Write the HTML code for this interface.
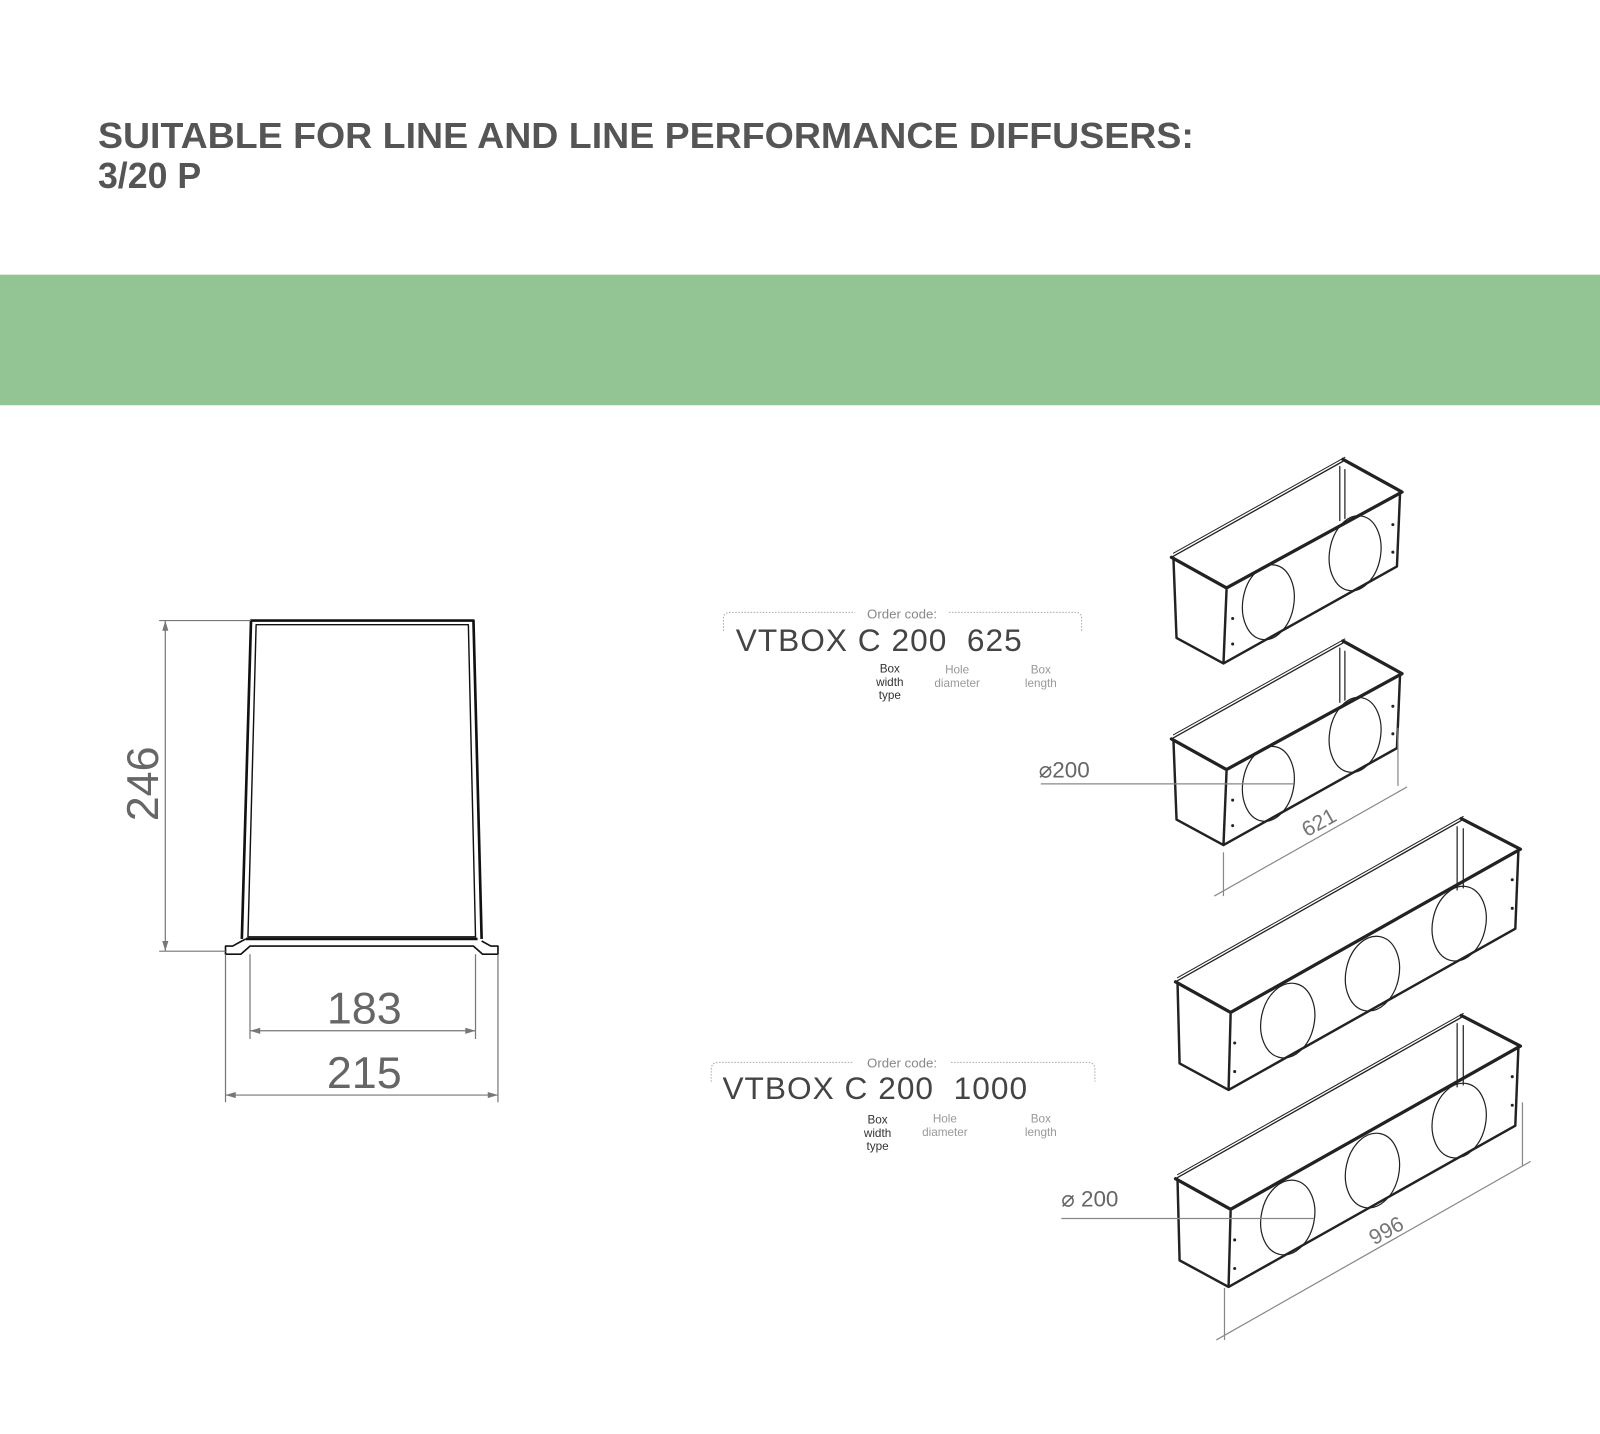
<!DOCTYPE html>
<html><head><meta charset="utf-8"><style>
html,body{margin:0;padding:0;background:#fff;}
svg{display:block;}
</style></head><body>
<svg width="1600" height="1434" viewBox="0 0 1568 1405" xmlns="http://www.w3.org/2000/svg" font-family="Liberation Sans, sans-serif">
<defs>
<g id="sbox" fill="none" stroke="#222" stroke-linejoin="round" stroke-linecap="round">
  <path d="M2,-4 L170,-98" stroke-width="1"/>
  <path d="M0,0 L168,-94" stroke-width="1.3"/>
  <path d="M0,0 L54,30 L226,-64 L168,-96" stroke-width="3.2"/>
  <path d="M2,2 L5,79 L51,104 L54,32 M51,104 L221,9 L224,-62" stroke-width="2.4"/>
  <path d="M165,-89 L165,-36 M170,-86 L170,-38" stroke-width="1.2"/>
  <ellipse cx="95" cy="44" rx="25" ry="37" transform="rotate(10 95 44)" stroke-width="1.2"/>
  <ellipse cx="180" cy="-4" rx="25" ry="37" transform="rotate(10 180 -4)" stroke-width="1.2"/>
  <circle cx="60" cy="60" r="1" fill="#222"/><circle cx="60" cy="85" r="1" fill="#222"/>
  <circle cx="217" cy="-32" r="1" fill="#222"/><circle cx="217" cy="-5" r="1" fill="#222"/>
</g>
<g id="lbox" fill="none" stroke="#222" stroke-linejoin="round" stroke-linecap="round">
  <path d="M2,-4 L282,-162" stroke-width="1"/>
  <path d="M0,0 L280,-158" stroke-width="1.3"/>
  <path d="M0,0 L54,30 L338,-130 L280,-160" stroke-width="3.2"/>
  <path d="M2,2 L4,80 L52,106 L54,32 M52,106 L333,-52 L336,-128" stroke-width="2.4"/>
  <path d="M276,-152 L276,-90 M282,-150 L282,-92" stroke-width="1.2"/>
  <ellipse cx="110" cy="38" rx="26" ry="37" transform="rotate(12 110 38)" stroke-width="1.2"/>
  <ellipse cx="193" cy="-8" rx="26" ry="37" transform="rotate(12 193 -8)" stroke-width="1.2"/>
  <ellipse cx="278" cy="-57" rx="26" ry="37" transform="rotate(12 278 -57)" stroke-width="1.2"/>
  <circle cx="58" cy="60" r="1" fill="#222"/><circle cx="58" cy="88" r="1" fill="#222"/>
  <circle cx="330" cy="-100" r="1" fill="#222"/><circle cx="330" cy="-72" r="1" fill="#222"/>
</g>
</defs>

<text x="96" y="145" font-size="35" font-weight="bold" fill="#555" textLength="1074" lengthAdjust="spacingAndGlyphs">SUITABLE FOR LINE AND LINE PERFORMANCE DIFFUSERS:</text>
<text x="96" y="184" font-size="35" font-weight="bold" fill="#555">3/20 P</text>

<rect x="0" y="269" width="1568" height="128" fill="#93c493"/>

<g fill="none" stroke="#111" stroke-linejoin="round">
  <path d="M237,920 L246,608 L464,608 L472,920" stroke-width="2.6"/>
  <path d="M243,918 L251,612 L459,612 L466,918 Z" stroke-width="1.4"/>
  <path d="M241,920 L468,920" stroke-width="2.6"/>
  <path d="M241,920 L237,922 L228,927 L221,927 L221,935 L236,935 L245,927 L464,927 L473,935 L488,935 L488,927 L481,927 L472,922" stroke-width="1.6"/>
</g>
<g stroke="#777" stroke-width="1.2" fill="none">
  <path d="M156,608 L246,608 M156,932 L221,932 M162,608 L162,932"/>
  <path d="M245,935 L245,1018 M466,935 L466,1018 M245,1010 L466,1010"/>
  <path d="M221,935 L221,1080 M488,935 L488,1080 M221,1073 L488,1073"/>
</g>
<g fill="#777"><path d="M245,1010 l10,-3 l0,6z M466,1010 l-10,-3 l0,6z M221,1073 l10,-3 l0,6z M488,1073 l-10,-3 l0,6z M162,608 l-3,10 l6,0z M162,932 l-3,-10 l6,0z"/></g>
<text x="357" y="1003" font-size="44" fill="#666" text-anchor="middle">183</text>
<text x="357" y="1066" font-size="44" fill="#666" text-anchor="middle">215</text>
<text transform="translate(155,768) rotate(-90)" font-size="44" fill="#666" text-anchor="middle">246</text>

<path d="M709,618 L709,606 Q709,600 716,600 L838,600 M930,600 L1054,600 Q1060,600 1060,606 L1060,618" stroke="#aaa" stroke-width="1" stroke-dasharray="1.5 1.5" fill="none"/>
<text x="884" y="606" font-size="13" fill="#888" text-anchor="middle">Order code:</text>
<text x="721" y="638" font-size="31" fill="#444" letter-spacing="1">VTBOX C 200&#160; 625</text>
<g font-size="11.5" text-anchor="middle">
  <text x="872" y="659" fill="#333">Box</text><text x="872" y="672" fill="#333">width</text><text x="872" y="685" fill="#333">type</text>
  <text x="938" y="660" fill="#999">Hole</text><text x="938" y="673" fill="#999">diameter</text>
  <text x="1020" y="660" fill="#999">Box</text><text x="1020" y="673" fill="#999">length</text>
</g>

<path d="M697,1060 L697,1048 Q697,1041 704,1041 L836,1041 M932,1041 L1066,1041 Q1073,1041 1073,1048 L1073,1060" stroke="#aaa" stroke-width="1" stroke-dasharray="1.5 1.5" fill="none"/>
<text x="884" y="1046" font-size="13" fill="#888" text-anchor="middle">Order code:</text>
<text x="708" y="1077" font-size="31" fill="#444" letter-spacing="1">VTBOX C 200&#160; 1000</text>
<g font-size="11.5" text-anchor="middle">
  <text x="860" y="1101" fill="#333">Box</text><text x="860" y="1114" fill="#333">width</text><text x="860" y="1127" fill="#333">type</text>
  <text x="926" y="1100" fill="#999">Hole</text><text x="926" y="1113" fill="#999">diameter</text>
  <text x="1020" y="1100" fill="#999">Box</text><text x="1020" y="1113" fill="#999">length</text>
</g>

<use href="#sbox" x="1148" y="546"/>
<use href="#sbox" x="1148" y="724"/>
<use href="#lbox" x="1152" y="962"/>
<use href="#lbox" x="1152" y="1155"/>

<g stroke="#888" stroke-width="1.2" fill="none">
  <path d="M1020,768 L1268,768"/>
  <path d="M1199,835 L1199,878 M1370,713 L1370,770 M1190,878 L1379,771"/>
  <path d="M1040,1194 L1288,1194"/>
  <path d="M1200,1262 L1200,1313 M1492,1080 L1492,1142 M1192,1313 L1500,1138"/>
</g>
<text x="1018" y="762" font-size="22" fill="#666">⌀200</text>
<text x="1040" y="1182" font-size="22" fill="#666">⌀ 200</text>
<text transform="translate(1296,812) rotate(-29)" font-size="21" fill="#777" text-anchor="middle">621</text>
<text transform="translate(1362,1212) rotate(-29)" font-size="21" fill="#777" text-anchor="middle">996</text>
</svg>
</body></html>
